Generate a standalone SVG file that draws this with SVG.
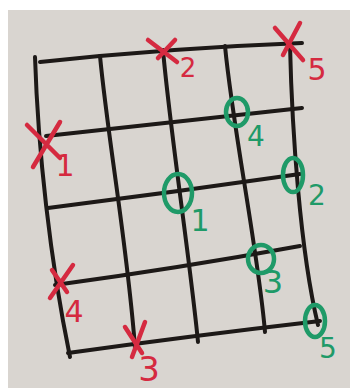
<svg xmlns="http://www.w3.org/2000/svg" width="350" height="388" viewBox="0 0 350 388">
<style>
.g{fill:none;stroke:#1d1917;stroke-width:4;stroke-linecap:round;stroke-linejoin:round}
.r{fill:none;stroke:#d52a40;stroke-width:4.5;stroke-linecap:round}
.rt{fill:#d52a40;font-family:"DejaVu Sans","Liberation Sans",sans-serif;text-anchor:middle}
.c{fill:none;stroke:#1f9a68;stroke-width:4.5;stroke-linecap:round}
.ct{fill:#1f9a68;font-family:"DejaVu Sans","Liberation Sans",sans-serif;text-anchor:middle}
</style>
<rect x="0" y="0" width="350" height="388" fill="#ffffff"/>
<rect x="8" y="10" width="342" height="378" fill="#d9d5d0"/>
<g id="grid">
<path class="g" d="M40,62 Q170,48 302,43"/>
<path class="g" d="M46,136 Q175,122 302,108"/>
<path class="g" d="M48,208 Q175,192 300,174"/>
<path class="g" d="M55,285 Q180,268 300,246"/>
<path class="g" d="M68,353 Q190,336 320,321"/>
<path class="g" d="M35,57 C38,150 50,260 70,357"/>
<path class="g" d="M100,56 C108,140 128,250 135,348"/>
<path class="g" d="M163,50 C170,130 190,260 198,342"/>
<path class="g" d="M225,46 C233,130 258,250 265,332"/>
<path class="g" d="M290,45 C292,130 300,250 318,325"/>
</g>
<g id="x2"><path class="r" d="M148,40 L177,62 M175,40 L158,58"/><text class="rt" x="188" y="77" font-size="26">2</text></g>
<g id="x5"><path class="r" d="M275,28 L303,60 M300,23 L283,55"/><text class="rt" x="317" y="80" font-size="30">5</text></g>
<g id="x1"><path class="r" d="M27,125 L60,158 M60,122 L33,167"/><text class="rt" x="65" y="176" font-size="30">1</text></g>
<g id="x4"><path class="r" d="M52,270 L67,292 M73,265 L50,298"/><text class="rt" x="74" y="322" font-size="30">4</text></g>
<g id="x3"><path class="r" d="M125,327 L142,353 M145,322 L132,357"/><text class="rt" x="149" y="381" font-size="34">3</text></g>
<g id="o4"><ellipse class="c" cx="237" cy="112" rx="11" ry="14"/><text class="ct" x="256" y="146" font-size="28">4</text></g>
<g id="o2"><ellipse class="c" cx="293" cy="175" rx="10" ry="17"/><text class="ct" x="317" y="205" font-size="28">2</text></g>
<g id="o1"><ellipse class="c" cx="178" cy="193" rx="14" ry="19"/><text class="ct" x="200" y="231" font-size="30">1</text></g>
<g id="o3"><ellipse class="c" cx="261" cy="259" rx="13" ry="14"/><text class="ct" x="273" y="293" font-size="32">3</text></g>
<g id="o5"><ellipse class="c" cx="315" cy="321" rx="10" ry="16"/><text class="ct" x="328" y="358" font-size="28">5</text></g>
</svg>
